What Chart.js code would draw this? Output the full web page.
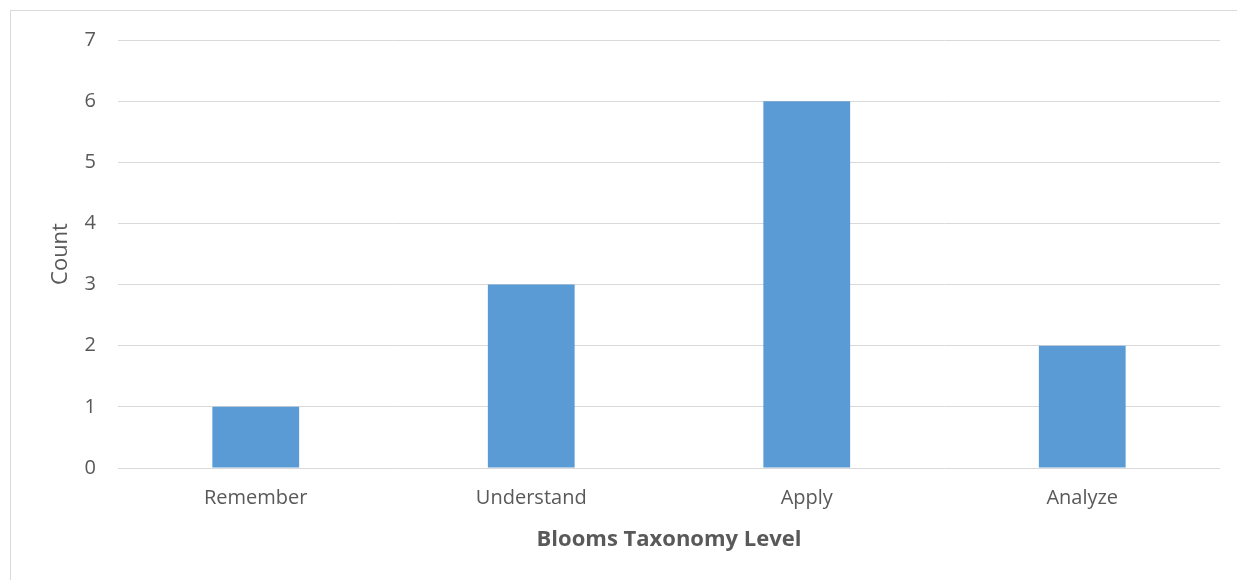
<!DOCTYPE html>
<html>
<head>
<meta charset="utf-8">
<script src="https://cdn.jsdelivr.net/npm/chart.js@4.4.0/dist/chart.umd.min.js"></script>
<style>
  html, body { margin: 0; padding: 0; background: #fff; }
  #wrap { position: relative; width: 1237px; height: 580px; overflow: hidden; }
  #frame { position: absolute; left: 10px; top: 10px; width: 1250px; height: 600px; border: 1px solid #d9d9d9; box-sizing: border-box; }
  canvas { position: absolute; left: 0; top: 0; }
</style>
</head>
<body>
<div id="wrap">
  <div id="frame"></div>
  <canvas id="myChart" width="1237" height="580"></canvas>
</div>
<script>
const levels = ['Remember', 'Understand', 'Apply', 'Analyze'];
const counts = [1, 3, 6, 2];
const yMax = 7;

const ctx = document.getElementById('myChart');
const textColor = '#595959';
const gridColor = '#d9d9d9';

new Chart(ctx, {
  type: 'bar',
  data: {
    labels: levels,
    datasets: [{
      label: 'Count',
      data: counts,
      backgroundColor: '#5b9bd5',
      borderWidth: 0,
      categoryPercentage: 1,
      barPercentage: 0.315
    }]
  },
  options: {
    responsive: false,
    animation: false,
    layout: { padding: { top: 40, right: 17, left: 0, bottom: 0 } },
    plugins: {
      legend: { display: false },
      tooltip: { enabled: false }
    },
    scales: {
      x: {
        grid: { display: false, drawTicks: false },
        border: { display: false },
        ticks: { color: textColor, font: { family: 'Open Sans', size: 20 }, padding: 18 },
        title: {
          display: true,
          text: 'Blooms Taxonomy Level',
          color: textColor,
          font: { family: 'Open Sans', size: 22, weight: 'bold' },
          padding: { top: 10, bottom: 27 }
        },
        afterFit: function(scale) { scale.height = 112; }
      },
      y: {
        min: 0,
        max: yMax,
        grid: { color: gridColor, lineWidth: 1, drawTicks: false },
        border: { display: false },
        ticks: { stepSize: 1, color: textColor, font: { family: 'Open Sans', size: 20 }, padding: 22 },
        title: {
          display: true,
          text: 'Count',
          color: textColor,
          font: { family: 'Open Sans', size: 22 },
          padding: { top: 48, bottom: 0 }
        },
        afterFit: function(scale) { scale.width = 118; }
      }
    }
  }
});
</script>
</body>
</html>
